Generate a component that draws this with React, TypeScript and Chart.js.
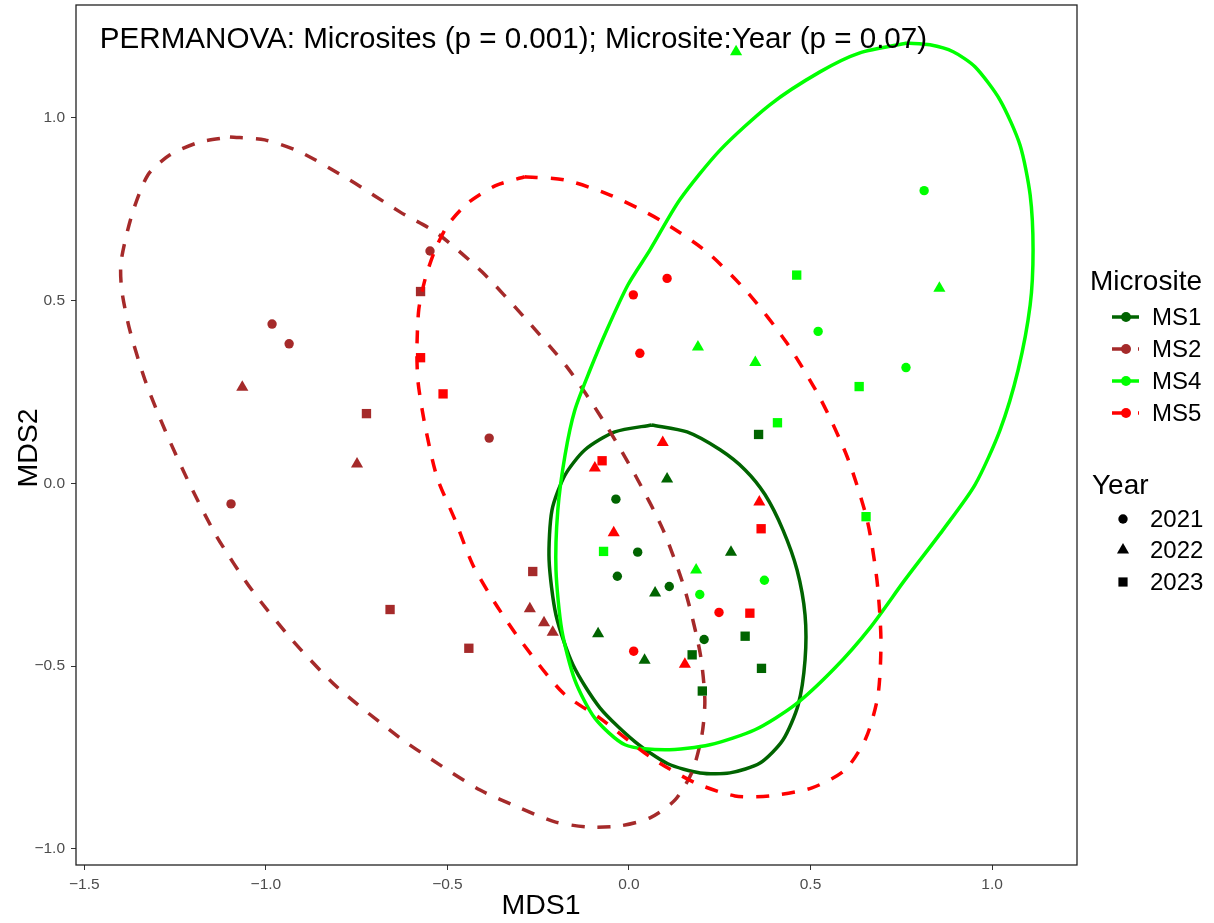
import React, { useEffect, useRef } from 'react';
import { Chart, registerables } from 'chart.js';

Chart.register(...registerables);

const FONT = '"Liberation Sans", Arial, Helvetica, sans-serif';

// ---------- Data ----------
const SITES = ['MS1', 'MS2', 'MS4', 'MS5'];
const YEARS = ['2021', '2022', '2023'];

const X_TICKS = [-1.5, -1.0, -0.5, 0.0, 0.5, 1.0];
const Y_TICKS = [-1.0, -0.5, 0.0, 0.5, 1.0];
const X_LIMITS = [-1.523, 1.234];
const Y_LIMITS = [-1.044, 1.309];

const ANNOTATION_TEXT = 'PERMANOVA: Microsites (p = 0.001); Microsite:Year (p = 0.07)';
const ANNOTATION_POS = [-0.318, 1.214];

// points: [MDS1, MDS2]
const MS1_2021 = [[-0.036, -0.043], [0.024, -0.188], [-0.032, -0.254], [0.111, -0.282], [0.207, -0.427]];
const MS1_2022 = [[0.105, 0.012], [0.281, -0.188], [0.072, -0.300], [-0.085, -0.411], [0.043, -0.484]];
const MS1_2023 = [[0.357, 0.134], [0.320, -0.418], [0.174, -0.469], [0.365, -0.506], [0.202, -0.568]];
const MS2_2021 = [[-0.548, 0.636], [-0.983, 0.436], [-0.936, 0.382], [-0.385, 0.124], [-1.096, -0.056]];
const MS2_2022 = [[-1.065, 0.263], [-0.749, 0.053], [-0.273, -0.343], [-0.234, -0.381], [-0.210, -0.407]];
const MS2_2023 = [[-0.574, 0.525], [-0.723, 0.191], [-0.658, -0.345], [-0.441, -0.451], [-0.265, -0.241]];
const MS4_2021 = [[0.813, 0.801], [0.521, 0.416], [0.763, 0.317], [0.373, -0.265], [0.195, -0.304]];
const MS4_2022 = [[0.295, 1.181], [0.855, 0.534], [0.190, 0.373], [0.348, 0.331], [0.185, -0.237]];
const MS4_2023 = [[0.462, 0.570], [0.634, 0.265], [0.409, 0.166], [-0.070, -0.186], [0.653, -0.091]];
const MS5_2021 = [[0.012, 0.516], [0.105, 0.561], [0.030, 0.356], [0.248, -0.353], [0.013, -0.459]];
const MS5_2022 = [[0.093, 0.112], [-0.094, 0.042], [0.359, -0.051], [-0.042, -0.135], [0.154, -0.495]];
const MS5_2023 = [[-0.574, 0.344], [-0.512, 0.245], [-0.074, 0.062], [0.364, -0.124], [0.333, -0.355]];

// ellipse outlines: [MDS1, MDS2]
const ELLIPSE_MS1 = [
  [0.063, 0.160], [0.160, 0.141], [0.251, 0.092], [0.320, 0.037], [0.375, -0.031], [0.424, -0.127],
  [0.463, -0.237], [0.485, -0.360], [0.485, -0.483], [0.466, -0.606], [0.424, -0.702], [0.361, -0.765],
  [0.278, -0.792], [0.196, -0.792], [0.107, -0.767], [0.017, -0.707], [-0.080, -0.614], [-0.154, -0.497],
  [-0.201, -0.360], [-0.220, -0.209], [-0.212, -0.073], [-0.176, 0.023], [-0.121, 0.092], [-0.039, 0.141],
];
const ELLIPSE_MS2 = [
  [-1.099, 0.948], [-1.003, 0.940], [-0.906, 0.907], [-0.769, 0.830], [-0.631, 0.743], [-0.529, 0.685],
  [-0.405, 0.579], [-0.287, 0.453], [-0.171, 0.319], [-0.072, 0.174], [0.017, 0.023], [0.094, -0.127],
  [0.154, -0.291], [0.196, -0.464], [0.209, -0.592], [0.201, -0.688], [0.174, -0.789], [0.127, -0.866],
  [0.058, -0.915], [-0.025, -0.937], [-0.113, -0.940], [-0.204, -0.926], [-0.300, -0.888], [-0.410, -0.839],
  [-0.521, -0.770], [-0.631, -0.696], [-0.804, -0.557], [-0.928, -0.428], [-1.039, -0.291], [-1.135, -0.146],
  [-1.209, -0.004], [-1.278, 0.146], [-1.333, 0.283], [-1.375, 0.420], [-1.397, 0.529], [-1.399, 0.606],
  [-1.369, 0.735], [-1.325, 0.844], [-1.264, 0.899], [-1.182, 0.934],
];
const ELLIPSE_MS4 = [
  [0.766, 1.205], [0.829, 1.200], [0.893, 1.181], [0.953, 1.140], [1.022, 1.049], [1.077, 0.926],
  [1.105, 0.789], [1.113, 0.639], [1.105, 0.488], [1.072, 0.311], [1.022, 0.146], [0.953, -0.004],
  [0.865, -0.127], [0.760, -0.264], [0.664, -0.395], [0.567, -0.505], [0.457, -0.606], [0.347, -0.674],
  [0.223, -0.715], [0.099, -0.729], [-0.011, -0.715], [-0.094, -0.642], [-0.149, -0.538], [-0.185, -0.401],
  [-0.201, -0.237], [-0.196, -0.073], [-0.176, 0.078], [-0.149, 0.201], [-0.107, 0.311], [-0.061, 0.420],
  [-0.003, 0.543], [0.058, 0.639], [0.140, 0.776], [0.251, 0.912], [0.388, 1.036], [0.526, 1.126],
  [0.636, 1.178],
];
const ELLIPSE_MS5 = [
  [-0.287, 0.839], [-0.176, 0.830], [-0.052, 0.789], [0.085, 0.721], [0.215, 0.633], [0.328, 0.521],
  [0.435, 0.384], [0.526, 0.234], [0.601, 0.073], [0.656, -0.100], [0.683, -0.264], [0.694, -0.428],
  [0.686, -0.579], [0.653, -0.696], [0.595, -0.784], [0.504, -0.833], [0.388, -0.855], [0.292, -0.855],
  [0.182, -0.819], [0.058, -0.748], [-0.080, -0.642], [-0.182, -0.573], [-0.300, -0.428], [-0.369, -0.327],
  [-0.430, -0.223], [-0.479, -0.100], [-0.529, 0.018], [-0.562, 0.160], [-0.581, 0.278], [-0.584, 0.365],
  [-0.579, 0.475], [-0.562, 0.557], [-0.534, 0.639], [-0.499, 0.707], [-0.444, 0.767], [-0.369, 0.814],
];

// ---------- Styles ----------
const SITE_COLORS = ['#006400', '#A52A2A', '#00FF00', '#FF0000'];
const SITE_DASHED = [false, true, false, true];
const YEAR_STYLES = ['circle', 'triangle', 'rect'];
const YEAR_RADII = [4.7, 7, 6.6];

const POINTS = [
  [MS1_2021, MS1_2022, MS1_2023],
  [MS2_2021, MS2_2022, MS2_2023],
  [MS4_2021, MS4_2022, MS4_2023],
  [MS5_2021, MS5_2022, MS5_2023],
];
const ELLIPSES = [ELLIPSE_MS1, ELLIPSE_MS2, ELLIPSE_MS4, ELLIPSE_MS5];
const DASH = [13, 13];

const fmt = (v: number) => v.toFixed(1).replace('-', '\u2212');

const decorPlugin = {
  id: 'decor',
  afterDraw(chart: any) {
    const { ctx, chartArea: a, scales } = chart;
    ctx.save();
    // panel border
    ctx.strokeStyle = '#222';
    ctx.lineWidth = 1.3;
    ctx.strokeRect(a.left, a.top, a.right - a.left, a.bottom - a.top);

    // annotation
    ctx.fillStyle = '#000';
    ctx.font = `29.6px ${FONT}`;
    ctx.textAlign = 'center';
    ctx.textBaseline = 'middle';
    ctx.fillText(
      ANNOTATION_TEXT,
      scales.x.getPixelForValue(ANNOTATION_POS[0]),
      scales.y.getPixelForValue(ANNOTATION_POS[1])
    );

    // axis titles
    ctx.font = `28.5px ${FONT}`;
    ctx.fillText('MDS1', 541, 906);
    ctx.save();
    ctx.translate(29, 448);
    ctx.rotate(-Math.PI / 2);
    ctx.fillText('MDS2', 0, 0);
    ctx.restore();

    // legend: Microsite
    ctx.textAlign = 'left';
    ctx.font = `28px ${FONT}`;
    ctx.fillText('Microsite', 1090, 282);
    const siteY = [317, 349, 381, 413];
    ctx.font = `24px ${FONT}`;
    SITES.forEach((s, i) => {
      const y = siteY[i];
      ctx.strokeStyle = SITE_COLORS[i];
      ctx.lineWidth = 3.5;
      ctx.setLineDash(SITE_DASHED[i] ? DASH : []);
      ctx.beginPath();
      ctx.moveTo(1112, y);
      ctx.lineTo(1139, y);
      ctx.stroke();
      ctx.setLineDash([]);
      ctx.fillStyle = SITE_COLORS[i];
      ctx.beginPath();
      ctx.arc(1126, y, 5, 0, Math.PI * 2);
      ctx.fill();
      ctx.fillStyle = '#000';
      ctx.fillText(s, 1152, y + 1);
    });

    // legend: Year
    ctx.font = `28px ${FONT}`;
    ctx.fillText('Year', 1092, 486);
    const yearY = [519, 550, 582];
    ctx.font = `24px ${FONT}`;
    YEARS.forEach((yr, i) => {
      const y = yearY[i];
      const x = 1123;
      ctx.fillStyle = '#000';
      ctx.beginPath();
      if (YEAR_STYLES[i] === 'circle') {
        ctx.arc(x, y, 4.7, 0, Math.PI * 2);
      } else if (YEAR_STYLES[i] === 'triangle') {
        const r = 7;
        ctx.moveTo(x, y - r);
        ctx.lineTo(x + r * Math.sin(Math.PI / 3), y + r * 0.5);
        ctx.lineTo(x - r * Math.sin(Math.PI / 3), y + r * 0.5);
        ctx.closePath();
      } else {
        ctx.rect(x - 4.6, y - 4.6, 9.2, 9.2);
      }
      ctx.fill();
      ctx.fillText(yr, 1150, y + 1);
    });
    ctx.restore();
  },
};

export default function App() {
  const ref = useRef<HTMLCanvasElement>(null);

  useEffect(() => {
    const canvas = ref.current;
    if (!canvas) return;

    const datasets: any[] = [];
    // ellipses (drawn on top of points)
    ELLIPSES.forEach((pts, i) => {
      const closed = [...pts, pts[0]];
      datasets.push({
        type: 'scatter',
        label: SITES[i] + ' ellipse',
        data: closed.map(([x, y]) => ({ x, y })),
        showLine: true,
        borderColor: SITE_COLORS[i],
        borderWidth: 3.5,
        borderDash: SITE_DASHED[i] ? DASH : [],
        pointRadius: 0,
        fill: false,
        tension: 0.25,
        order: 3 - i,
      });
    });
    // points
    POINTS.forEach((byYear, i) => {
      byYear.forEach((pts, j) => {
        datasets.push({
          type: 'scatter',
          label: SITES[i] + ' ' + YEARS[j],
          data: pts.map(([x, y]) => ({ x, y })),
          pointStyle: YEAR_STYLES[j],
          pointRadius: YEAR_RADII[j],
          pointBackgroundColor: SITE_COLORS[i],
          pointBorderColor: SITE_COLORS[i],
          pointBorderWidth: 0,
          showLine: false,
          order: 10 + i,
        });
      });
    });

    const chart = new Chart(canvas, {
      type: 'scatter',
      data: { datasets },
      options: {
        animation: false,
        responsive: false,
        devicePixelRatio: 1,
        events: [],
        layout: { autoPadding: false, padding: { left: 0, right: 137, top: 5, bottom: 0 } },
        plugins: { legend: { display: false }, tooltip: { enabled: false } },
        scales: {
          x: {
            type: 'linear',
            min: X_LIMITS[0],
            max: X_LIMITS[1],
            afterBuildTicks: (s: any) => {
              s.ticks = X_TICKS.map((v) => ({ value: v }));
            },
            afterFit: (s: any) => {
              s.height = 58;
              s.paddingLeft = 0;
              s.paddingRight = 0;
              s.paddingTop = 0;
              s.paddingBottom = 0;
            },
            ticks: {
              callback: (v: any) => fmt(Number(v)),
              font: { family: FONT, size: 15.5 },
              color: '#4d4d4d',
              padding: 5,
              maxRotation: 0,
              autoSkip: false,
            },
            grid: { drawOnChartArea: false, drawTicks: true, tickLength: 5, color: '#333', lineWidth: 1 },
            border: { display: false },
          },
          y: {
            type: 'linear',
            min: Y_LIMITS[0],
            max: Y_LIMITS[1],
            afterBuildTicks: (s: any) => {
              s.ticks = Y_TICKS.map((v) => ({ value: v }));
            },
            afterFit: (s: any) => {
              s.width = 76;
              s.paddingLeft = 0;
              s.paddingRight = 0;
              s.paddingTop = 0;
              s.paddingBottom = 0;
            },
            ticks: {
              callback: (v: any) => fmt(Number(v)),
              font: { family: FONT, size: 15.5 },
              color: '#4d4d4d',
              padding: 6,
              autoSkip: false,
            },
            grid: { drawOnChartArea: false, drawTicks: true, tickLength: 5, color: '#333', lineWidth: 1 },
            border: { display: false },
          },
        },
      },
      plugins: [decorPlugin],
    } as any);

    return () => chart.destroy();
  }, []);

  return (
    <div style={{ position: 'absolute', left: 0, top: 0, width: 1214, height: 923, background: '#fff' }}>
      <canvas ref={ref} width={1214} height={923} style={{ display: 'block', width: 1214, height: 923 }} />
    </div>
  );
}
